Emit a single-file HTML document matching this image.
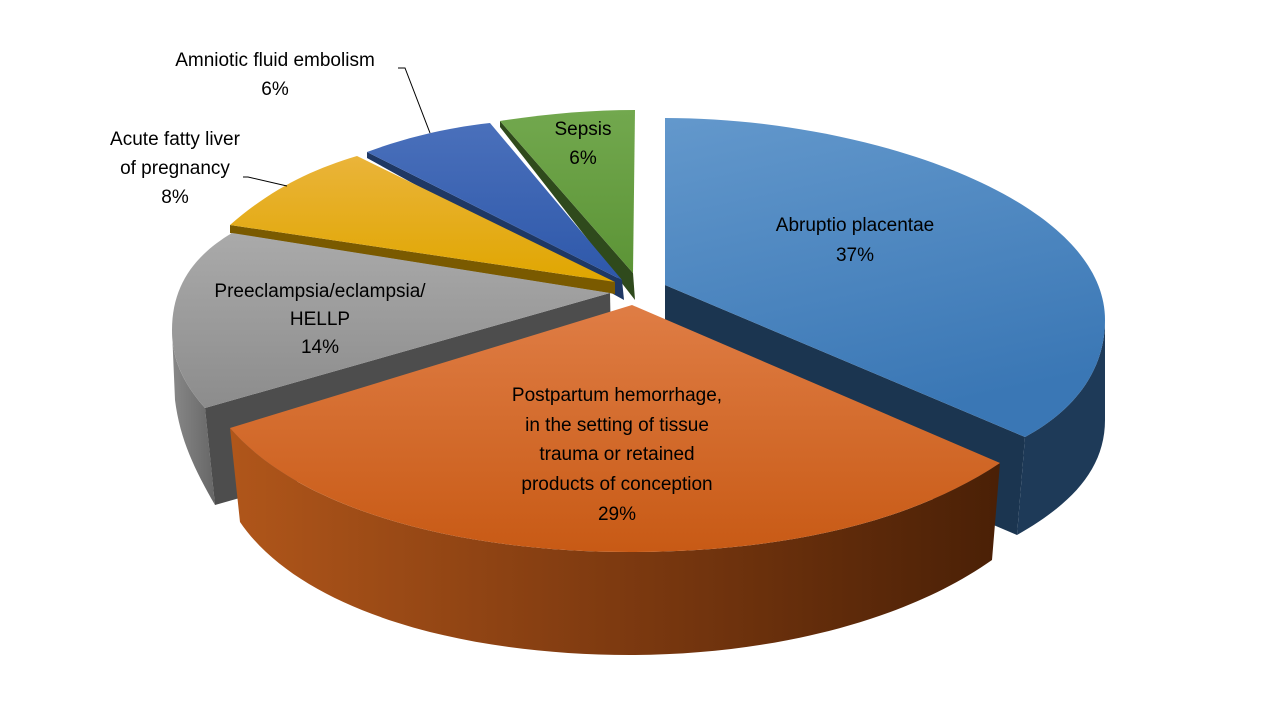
<!DOCTYPE html>
<html><head><meta charset="utf-8"><style>body{margin:0;background:#fff}svg{display:block}text{font-family:"Liberation Sans",sans-serif;font-size:19px;fill:#000;text-anchor:middle;dominant-baseline:middle}</style></head>
<body>
<svg width="1280" height="720" viewBox="0 0 1280 720">
<defs>
<linearGradient id="ot" x1="0" y1="0" x2="0" y2="1"><stop offset="0" stop-color="#df7d45"/><stop offset="1" stop-color="#c85a15"/></linearGradient>
<linearGradient id="os" x1="0" y1="0" x2="1" y2="0"><stop offset="0" stop-color="#b0561a"/><stop offset="0.5" stop-color="#7e3a10"/><stop offset="1" stop-color="#4a2006"/></linearGradient>
<linearGradient id="bt" x1="0" y1="0" x2="0.3" y2="1"><stop offset="0" stop-color="#6398cc"/><stop offset="1" stop-color="#3a77b5"/></linearGradient>
<linearGradient id="gt" x1="0" y1="0" x2="0" y2="1"><stop offset="0" stop-color="#aaa"/><stop offset="1" stop-color="#8c8c8c"/></linearGradient>
<linearGradient id="gs" x1="0" y1="0" x2="1" y2="0"><stop offset="0" stop-color="#888"/><stop offset="1" stop-color="#666"/></linearGradient>
<linearGradient id="yt" x1="0" y1="0" x2="0" y2="1"><stop offset="0" stop-color="#eab43a"/><stop offset="1" stop-color="#e0a600"/></linearGradient>
<linearGradient id="et" x1="0" y1="0" x2="0" y2="1"><stop offset="0" stop-color="#4a70bb"/><stop offset="1" stop-color="#2e58aa"/></linearGradient>
<linearGradient id="grt" x1="0" y1="0" x2="0" y2="1"><stop offset="0" stop-color="#72a84e"/><stop offset="1" stop-color="#5c9436"/></linearGradient>
</defs>
<path d="M500,121 L633,273 L635,300 L500,127 Z" fill="#2f4a1c"/>
<path d="M633,273 L500,121 C545,114 590,110 635,110 Z" fill="url(#grt)"/>
<path d="M367,152 L622,280 L624,300 L367,158 Z" fill="#1f3864"/>
<path d="M622,280 L367,152 C405,138 445,128 490,123 Z" fill="url(#et)"/>
<path d="M230,225 L615,282 L615,294 L230,233 Z" fill="#7a5a00"/>
<path d="M615,282 L230,225 C270,190 310,170 357,156 Z" fill="url(#yt)"/>
<path d="M172,330 L175,400 C180,440 195,470 215,505 L205,408 C180,380 172,355 172,330 Z" fill="url(#gs)"/>
<path d="M610,293 L205,408 L215,505 L612,392 Z" fill="#4d4d4d"/>
<path d="M610,293 L205,408 C180,380 172,355 172,330 C172,285 195,255 232,233 Z" fill="url(#gt)"/>
<path d="M665,285 L1025,437 L1017,535 L665,385 Z" fill="#1b3550"/>
<path d="M1105,320 C1105,370 1075,410 1025,437 L1017,535 C1070,505 1105,470 1105,420 Z" fill="#1e3a58"/>
<path d="M665,285 L665,118 C870,118 1105,200 1105,320 C1105,370 1075,410 1025,437 Z" fill="url(#bt)"/>
<path d="M230,428 C300,510 460,552 630,552 C760,552 900,530 1000,463 L992,560 C900,625 760,655 630,655 C460,655 300,610 240,522 Z" fill="url(#os)"/>
<path d="M632,305 L1000,463 C900,530 760,552 630,552 C460,552 300,510 230,428 Z" fill="url(#ot)"/>
<polyline points="398,68 405,68 430,133" fill="none" stroke="#000" stroke-width="1"/>
<polyline points="243,177 248,177 287,186" fill="none" stroke="#000" stroke-width="1"/>
<text x="275" y="61">Amniotic fluid embolism</text><text x="275" y="90">6%</text>
<text x="175" y="140">Acute fatty liver</text><text x="175" y="169">of pregnancy</text><text x="175" y="198">8%</text>
<text x="583" y="130">Sepsis</text><text x="583" y="159">6%</text>
<text x="855" y="226">Abruptio placentae</text><text x="855" y="256">37%</text>
<text x="320" y="292">Preeclampsia/eclampsia/</text><text x="320" y="320">HELLP</text><text x="320" y="348">14%</text>
<text x="617" y="396">Postpartum hemorrhage,</text><text x="617" y="426">in the setting of tissue</text><text x="617" y="455">trauma or retained</text><text x="617" y="485">products of conception</text><text x="617" y="515">29%</text>
</svg>
</body></html>
